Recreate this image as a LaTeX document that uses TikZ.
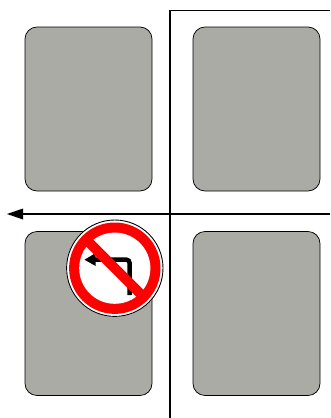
\documentclass[tikz,border=0pt]{standalone}
\definecolor{blockgrey}{HTML}{ABABA5}
\definecolor{signred}{HTML}{FF0000}
\tikzset{
  block/.style={draw=black, line width=0.75pt, fill=blockgrey, rounded corners=12pt, minimum width=127pt, minimum height=164pt, inner sep=0pt, outer sep=0pt},
  road/.style={draw=black, line width=1.4pt},
}
\begin{document}
\begin{tikzpicture}[x=1pt,y=-1pt]
\useasboundingbox (0,0) rectangle (330,418);
\node[block] (bTL) at (88.5,109) {};
\node[block] (bTR) at (256.5,109) {};
\node[block] (bBL) at (88.5,313.5) {};
\node[block] (bBR) at (256.5,313.5) {};
\coordinate (topR) at (330,10.5);
\coordinate (corner) at (170,10.5);
\coordinate (bottom) at (170,418);
\coordinate (right) at (330,214);
\coordinate (left) at (22,214);
\coordinate (tip) at (7,214);
\draw[road] (topR) -- (corner) -- (bottom);
\draw[road] (right) -- (left);
\fill[black] (tip) -- (23,208.5) -- (23,219.5) -- cycle;
% sign
\coordinate (sc) at (114.8,268.2);
\fill[white] (sc) circle (48.6);
\draw[black, line width=0.9pt] (sc) circle (48.2);
\fill[signred] (sc) circle (45.7);
\fill[white] (sc) circle (35.6);
\draw[black, line width=4.5pt, rounded corners=3pt] (129.5,295) -- (129.5,259.7) -- (94,259.7);
\fill[black] (84.5,259.7) -- (95.7,253) -- (95.7,266) -- cycle;
\draw[signred, line width=10pt] (88,241.4) -- (141.6,295);
\end{tikzpicture}
\end{document}
